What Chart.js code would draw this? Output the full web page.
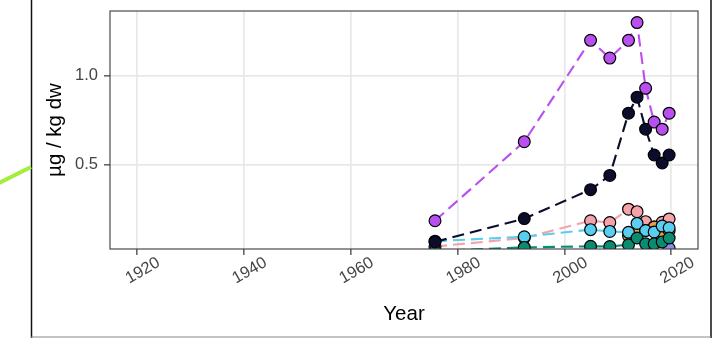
<!DOCTYPE html>
<html>
<head>
<meta charset="utf-8">
<script src="https://cdn.jsdelivr.net/npm/chart.js@4.4.1/dist/chart.umd.min.js"></script>
<style>
  html, body { margin: 0; padding: 0; background: #ffffff; }
  #wrap { width: 718px; height: 338px; position: relative; }
</style>
</head>
<body>
<div id="wrap"><canvas id="chart" width="718" height="338"></canvas></div>
<script>
// Sampling years (decimal) shared by all series
const years = [1975.8, 1992.5, 2004.9, 2008.5, 2012.0, 2013.6, 2015.2, 2016.8, 2018.3, 2019.6];

// Concentrations, µg / kg dw
const purpleSeries   = [0.185, 0.63, 1.20, 1.10, 1.20, 1.30, 0.93, 0.74, 0.70, 0.79];
const navySeries     = [0.066, 0.197, 0.36, 0.44, 0.79, 0.88, 0.70, 0.555, 0.51, 0.555];
const pinkSeries     = [0.04, 0.088, 0.185, 0.175, 0.25, 0.236, 0.18, 0.15, 0.176, 0.195];
const skySeries      = [0.07, 0.095, 0.135, 0.125, 0.12, 0.17, 0.13, 0.122, 0.155, 0.145];
const orangeSeries   = [null, null, null, null, 0.10, 0.12, 0.13, 0.15, 0.12, 0.13];
const tealSeries     = [0.015, 0.035, 0.041, 0.04, 0.05, 0.088, 0.055, 0.055, 0.066, 0.088];
const lavenderSeries = [null, null, null, null, null, null, null, null, null, 0.03];

// Axis ticks
const xTickValues = [1920, 1940, 1960, 1980, 2000, 2020];
const yTickValues = [0.5, 1.0];

// Series styling; listed bottom layer first
const seriesList = [
  { values: pinkSeries,     color: '#f4a3ab' },
  { values: orangeSeries,   color: '#e8a04c' },
  { values: skySeries,      color: '#58cef0' },
  { values: lavenderSeries, color: '#8c8ce8' },
  { values: tealSeries,     color: '#0b8b70' },
  { values: navySeries,     color: '#0c0c2c' },
  { values: purpleSeries,   color: '#b94ff0' }
];

const FONT = '"Liberation Sans", Arial, Helvetica, sans-serif';

function toPoints(values) {
  return years.map((x, i) => ({ x: x, y: values[i] }));
}

const datasets = [];
const n = seriesList.length;
seriesList.forEach((s, k) => {
  // dashed connecting line, drawn beneath every marker
  datasets.push({
    type: 'line',
    data: toPoints(s.values),
    borderColor: s.color,
    borderWidth: 2.1,
    borderDash: [12, 6],
    pointRadius: 0,
    fill: false,
    tension: 0,
    spanGaps: false,
    clip: 0,
    order: 100 + (n - k)
  });
  // filled circle markers with black outline
  datasets.push({
    type: 'line',
    data: toPoints(s.values),
    showLine: false,
    pointRadius: 5.9,
    pointBackgroundColor: s.color,
    pointBorderColor: '#000000',
    pointBorderWidth: 1.2,
    clip: 0,
    order: 10 + (n - k)
  });
});

const decorPlugin = {
  id: 'decor',
  beforeDraw(chart) {
    const ctx = chart.ctx;
    ctx.save();
    ctx.fillStyle = '#ffffff';
    ctx.fillRect(0, 0, chart.width, chart.height);
    ctx.restore();
  },
  afterDraw(chart) {
    const { ctx, chartArea: a } = chart;
    ctx.save();
    // panel border
    ctx.strokeStyle = '#3a3a3a';
    ctx.lineWidth = 1.1;
    ctx.strokeRect(a.left, a.top, a.right - a.left, a.bottom - a.top);
    // outer figure frame
    ctx.strokeStyle = '#111111';
    ctx.lineWidth = 1.5;
    ctx.beginPath();
    ctx.moveTo(31.5, 0); ctx.lineTo(31.5, 338);
    ctx.moveTo(711, 0); ctx.lineTo(711, 338);
    ctx.stroke();
    ctx.strokeStyle = '#8a8a8a';
    ctx.lineWidth = 1.2;
    ctx.beginPath();
    ctx.moveTo(31, 337); ctx.lineTo(711, 337);
    ctx.stroke();
    // green connector stroke entering from the left
    ctx.strokeStyle = '#a2ee3a';
    ctx.lineWidth = 4;
    ctx.lineCap = 'butt';
    ctx.beginPath();
    ctx.moveTo(-2, 183.5); ctx.lineTo(31, 167);
    ctx.stroke();
    ctx.restore();
  }
};

new Chart(document.getElementById('chart'), {
  type: 'line',
  data: { datasets: datasets },
  plugins: [decorPlugin],
  options: {
    responsive: false,
    animation: false,
    events: [],
    layout: { padding: { left: 0, right: 20, top: 11, bottom: 0 } },
    plugins: { legend: { display: false }, tooltip: { enabled: false } },
    scales: {
      x: {
        type: 'linear',
        min: 1915,
        max: 2025,
        afterBuildTicks(scale) { scale.ticks = xTickValues.map(v => ({ value: v })); },
        afterFit(scale) {
          scale.height = 89;
          scale.paddingLeft = 0;
          scale.paddingRight = 0;
        },
        border: { display: false },
        grid: {
          color: '#e8e8e8',
          lineWidth: 1.7,
          drawTicks: true,
          tickLength: 6,
          tickColor: '#333333',
          tickWidth: 1.2
        },
        ticks: {
          autoSkip: false,
          minRotation: 30,
          maxRotation: 30,
          padding: -2,
          labelOffset: 22,
          color: '#444444',
          font: { family: FONT, size: 16.5 },
          callback: v => String(v)
        },
        title: {
          display: true,
          text: 'Year',
          color: '#000000',
          font: { family: FONT, size: 20.5 },
          padding: { top: 0, bottom: 11 }
        }
      },
      y: {
        type: 'linear',
        min: 0.026,
        max: 1.365,
        afterBuildTicks(scale) { scale.ticks = yTickValues.map(v => ({ value: v })); },
        afterFit(scale) {
          scale.width = 110;
          scale.paddingTop = 0;
          scale.paddingBottom = 0;
        },
        border: { display: false },
        grid: {
          color: '#e8e8e8',
          lineWidth: 1.7,
          drawTicks: true,
          tickLength: 6,
          tickColor: '#333333',
          tickWidth: 1.2
        },
        ticks: {
          padding: 6,
          color: '#444444',
          font: { family: FONT, size: 16.5 },
          callback: v => Number(v).toFixed(1)
        },
        title: {
          display: true,
          text: 'µg / kg dw',
          color: '#000000',
          font: { family: FONT, size: 20.5 },
          padding: { top: 43, bottom: 0 }
        }
      }
    }
  }
});
</script>
</body>
</html>
